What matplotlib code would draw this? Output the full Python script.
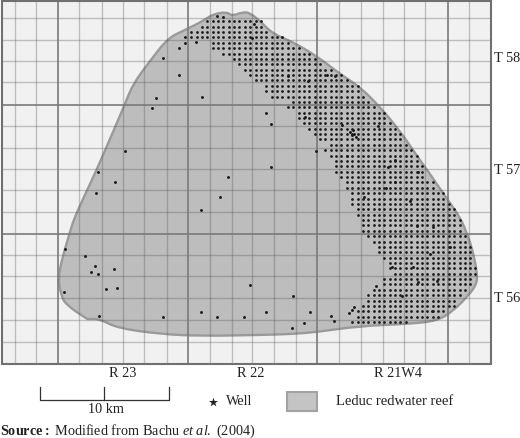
import numpy as np
import matplotlib
matplotlib.use("Agg")
import matplotlib.pyplot as plt
from matplotlib.patches import PathPatch, Rectangle
from matplotlib.path import Path

plt.rcParams['font.family'] = 'Liberation Serif'
plt.rcParams['mathtext.fontset'] = 'custom'
plt.rcParams['mathtext.rm'] = 'Liberation Serif'
plt.rcParams['mathtext.it'] = 'Liberation Serif:italic'
plt.rcParams['mathtext.bf'] = 'Liberation Serif:bold'

# map extent and survey grid (map units)
major_x = [58, 188, 317, 448]
major_y = [105.5, 235]
minor_x = [15, 36, 79, 102, 123, 144, 167, 210, 232, 252, 274, 296, 339, 361, 383, 404, 425, 469]
minor_y = [19, 41, 62, 83, 127, 149, 170, 191, 213, 256, 277, 299, 321, 343]

reef_x = [74, 83, 97, 110, 125, 133, 150, 168, 185, 203, 213, 227, 232, 243, 250, 260, 273, 293, 318,
          340, 360, 380, 400, 417, 430, 447, 460, 468, 473, 477, 477, 467, 453, 437, 407, 360, 317,
          293, 260, 200, 160, 117, 100, 88, 87, 65, 61, 58, 62, 70]
reef_y = [220, 200, 170, 140, 105, 85, 62, 39, 31, 22, 15, 13, 17, 13, 14, 22, 35, 43, 58,
          75, 88, 108, 132, 157, 175, 200, 218, 237, 253, 273, 285, 298, 312, 322, 325, 327, 333,
          335, 336, 337, 335, 329, 320, 320, 320, 305, 295, 280, 260, 233]

# regular well field ('*' = well)
field_cols = [191, 197, 202, 207, 213, 218, 223, 229, 234, 239, 245, 250, 256, 261, 266, 272, 277, 282,
              288, 293, 299, 304, 309, 315, 320, 325, 331, 336, 341, 347, 352, 358, 363, 368, 374, 379,
              384, 390, 395, 400, 406, 411, 417, 422, 427, 433, 438, 443, 449, 454, 460, 465, 470, 475]
field_rows = [22.3, 27.7, 33.0, 38.4, 43.8, 49.2, 54.5, 59.9, 65.3, 70.7, 76.0, 81.4, 86.7, 92.1, 97.5,
              102.9, 108.3, 113.6, 119.0, 124.3, 129.7, 135.0, 140.4, 145.8, 151.2, 156.5, 161.9, 167.3,
              172.7, 178.0, 183.4, 188.8, 194.2, 199.5, 204.9, 210.3, 215.6, 221.0, 226.4, 231.7, 237.1,
              242.5, 247.8, 253.2, 258.6, 264.0, 269.3, 274.7, 280.0, 285.4, 290.8, 296.1, 301.5, 306.9,
              312.3, 317.6, 323.0]
field_map = [
    "...******* ****",
    "..******** ****",
    "********** *****",
    "********** *******",
    "....****** *********",
    "....****** ********** *",
    "......**** ********** ***",
    "........** ********** ****",
    ".........* ********** *****",
    ".......... ********** *******",
    ".......... .********* *********",
    ".......... ..******** **********",
    ".......... ....****** ********** **",
    ".......... ....****** ********** **",
    ".......... .....***** ********** ***",
    ".......... .........* ********** ****",
    ".......... ........** ********** *****",
    ".......... .......... ********** *******",
    ".......... .......... ********** *******",
    ".......... .......... .********* ********",
    ".......... .......... ..******** *********",
    ".......... .......... ...******* **********",
    ".......... .......... ....****** **********",
    ".......... .......... ......**** ********** *",
    ".......... .......... .....***** ********** **",
    ".......... .......... ......**** ********** ***",
    ".......... .......... .......*** ********** ***",
    ".......... .......... .......*** ********** ****",
    ".......... .......... .......*** ********** ****",
    ".......... .......... ........** ********** ****",
    ".......... .......... .........* ********** ******",
    ".......... .......... .........* ********** ******",
    ".......... .......... .......... ********** ********",
    ".......... .......... .......... ********** ********",
    ".......... .......... .......... ********** *********",
    ".......... .......... .......... .********* **********",
    ".......... .......... .......... .********* **********",
    ".......... .......... .......... ..******** ********** *",
    ".......... .......... .......... ..******** ********** *",
    ".......... .......... .......... ..******** ********** *",
    ".......... .......... .......... ...******* ********** **",
    ".......... .......... .......... ....****** ********** **",
    ".......... .......... .......... .....***** ********** ***",
    ".......... .......... .......... .....***** ********** ***",
    ".......... .......... .......... ......**** ********** ***",
    ".......... .......... .......... .......*** ********** ***",
    ".......... .......... .......... .......*** ********** ****",
    ".......... .......... .......... ........** ********** ****",
    ".......... .......... .......... ......**** ********** ***",
    ".......... .......... .......... ......**** ********** ***",
    ".......... .......... .......... ....****** ********** **",
    ".......... .......... .......... ...******* ********** *",
    ".......... .......... .......... ...******* **********",
    ".......... .......... .......... ..******** **********",
    ".......... .......... .......... .********* ********",
    ".......... .......... .......... .********* *******",
    ".......... .......... .......... ********** *",
]

# individually placed wells
scatter_x = [217, 223, 254, 252, 185, 185, 196, 179, 163, 179, 156, 152, 202, 125, 98, 115, 96, 228, 220, 201,
             266, 271, 316, 271, 65, 85, 95, 91, 98, 114, 106, 117, 64, 99, 163, 201, 217, 244, 250,
             266, 293, 310, 304, 292, 331, 334, 349, 352, 354, 376,
             350, 352, 354, 353, 356, 288, 308, 327, 335, 282, 305, 342, 378, 347, 395, 418, 388, 395, 386, 364, 410,
             433, 417, 430, 413, 418, 402, 437, 392, 432, 450]
scatter_y = [17, 18, 25, 39, 38, 44, 43, 49, 59, 76, 99, 109, 98, 152, 173, 183, 194, 178, 198, 211,
             114, 125, 152, 168, 250, 257, 267, 273, 275, 270, 290, 289, 293, 317, 318, 313, 318, 318, 286,
             313, 297, 313, 324, 329, 317, 322, 314, 311, 308, 287,
             133, 136, 135, 131, 138, 77, 82, 76, 77, 38, 118, 126, 127, 157, 161, 173, 168, 183, 189, 198, 202,
             228, 227, 255, 268, 283, 297, 282, 268, 312, 248]

range_labels = ["R 23", "R 22", "R 21W4"]
township_labels = ["T 58", "T 57", "T 56"]

fig = plt.figure(figsize=(5.20, 4.39), dpi=100)
ax = fig.add_axes([0, 0, 1, 1])
ax.set_xlim(0, 520)
ax.set_ylim(439, 0)
ax.axis('off')

ax.add_patch(Rectangle((2, 2), 489, 362.5, fc='#f1f1f1', ec='none', zorder=1))

# reef outline as a smooth closed curve through the traced vertices
pts = np.column_stack([reef_x, reef_y]).astype(float)
mids = (pts + np.roll(pts, -1, axis=0)) / 2
verts = [mids[-1]]
codes = [Path.MOVETO]
for p, m in zip(pts, mids):
    verts += [p, m]
    codes += [Path.CURVE3, Path.CURVE3]
ax.add_patch(PathPatch(Path(verts, codes), fc='#bdbdbd', ec='#9a9a9a', lw=1.7, zorder=2))

for x in minor_x:
    ax.plot([x, x], [2, 364.5], color='#555555', alpha=0.33, lw=1.0, zorder=3, solid_capstyle='butt')
for y in minor_y:
    ax.plot([2, 491], [y, y], color='#555555', alpha=0.33, lw=1.0, zorder=3, solid_capstyle='butt')
for x in major_x:
    ax.plot([x, x], [2, 364.5], color='#7a7a7a', lw=1.2, zorder=3, solid_capstyle='butt')
for y in major_y:
    ax.plot([2, 491], [y, y], color='#7a7a7a', lw=1.2, zorder=3, solid_capstyle='butt')
ax.add_patch(Rectangle((2, 2), 489, 362.5, fc='none', ec='#707070', lw=1.5, zorder=4))

# wells
wx, wy = [], []
for y, row in zip(field_rows, field_map):
    for x, cell in zip(field_cols, row.replace(' ', '')):
        if cell == '*':
            wx.append(x)
            wy.append(y)
ax.scatter(wx, wy, s=3.9, c='#1a1a1a', linewidths=0, zorder=5)
ax.scatter(scatter_x, scatter_y, s=4.4, c='#1a1a1a', linewidths=0, zorder=5)

fs = 10.3
for x, lab in zip([123, 251, 398], range_labels):
    ax.text(x, 373.5, lab, ha='center', va='center', fontsize=fs, color='#222222')
for y, lab in zip([58, 171, 299], township_labels):
    ax.text(493.5, y, lab, ha='left', va='center', fontsize=fs, color='#222222')

# scale bar
ax.plot([40, 40, 169, 169], [388, 401, 401, 388], color='#333333', lw=0.9, zorder=5)
ax.plot([104, 104], [388, 401], color='#333333', lw=0.9, zorder=5)
ax.text(106.5, 410, "10 km", ha='center', va='center', fontsize=fs, color='#222222')

# legend
ax.scatter([213], [403.5], marker='*', s=48, c='#222222', linewidths=0, zorder=5)
ax.text(226, 402, "Well", ha='left', va='center', fontsize=fs, color='#222222')
ax.add_patch(Rectangle((287, 393.5), 30, 19, fc='#c4c4c4', ec='#a3a3a3', lw=1.5, zorder=5))
ax.text(336, 402, "Leduc redwater reef", ha='left', va='center', fontsize=10.5, color='#222222')

ax.text(0, 431.5, r"$\mathbf{Source{:}}$ Modified from Bachu $\mathit{et\ al.}$ (2004)",
        ha='left', va='center', fontsize=fs, color='#222222')

fig.savefig("out.png", dpi=100)
